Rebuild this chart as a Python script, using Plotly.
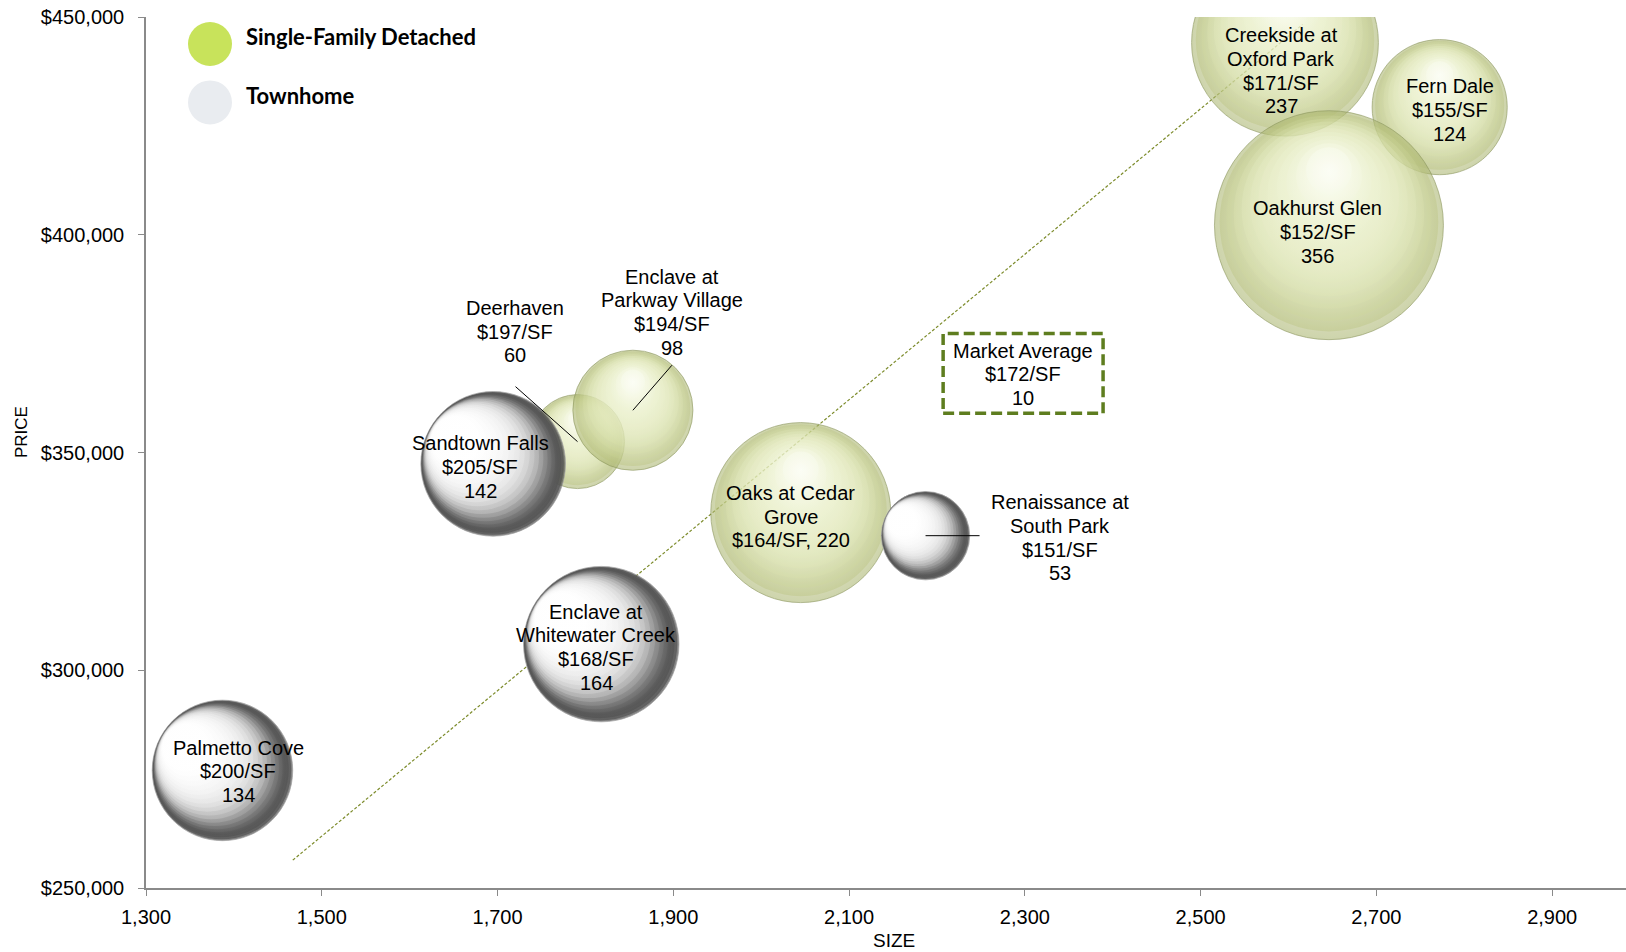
import numpy as np
import plotly.graph_objects as go

# ---------------------------------------------------------------- data
# Townhome communities
th_names = ["Palmetto Cove", "Enclave at\nWhitewater Creek", "Sandtown Falls",
            "Renaissance at\nSouth Park"]
th_size = [1387, 1818, 1695, 2187]            # average home size (SF)
th_price = [277000, 306000, 347400, 330900]   # average price ($)
th_psf = [200, 168, 205, 151]                 # price per SF
th_units = [134, 164, 142, 53]                # bubble value

# Single-family detached communities
sf_names = ["Deerhaven", "Enclave at\nParkway Village", "Oaks at Cedar\nGrove",
            "Creekside at\nOxford Park", "Fern Dale", "Oakhurst Glen"]
sf_size = [1791, 1854, 2045, 2596, 2772, 2646]
sf_price = [352500, 359700, 336200, 444100, 429300, 402200]
sf_psf = [197, 194, 164, 171, 155, 152]
sf_units = [60, 98, 220, 237, 124, 356]

# Trend line through the market
trend_size = [1467, 2616]
trend_price = [256400, 448300]

# Market average call-out
market_psf = 172
market_count = 10

x_ticks = [1300, 1500, 1700, 1900, 2100, 2300, 2500, 2700, 2900]
y_ticks = [250000, 300000, 350000, 400000, 450000]
y_tick_text = [f"${v:,}" for v in y_ticks]

# ---------------------------------------------------------------- layout constants
W, H = 1626, 952
M_L, M_R, M_T, M_B = 146, 0, 17, 64
PLOT_W = W - M_L - M_R
PLOT_H = H - M_T - M_B
X_RANGE = [1300, 2984]
Y_RANGE = [250000, 450000]
PX_X = PLOT_W / (X_RANGE[1] - X_RANGE[0])   # px per SF
PX_Y = PLOT_H / (Y_RANGE[1] - Y_RANGE[0])   # px per $

FONT = "Liberation Sans, Arial, sans-serif"
LEGEND_FONT = "Lato, Calibri, sans-serif"
LABEL_SIZE = 20
LINE_H = 23.7

MAX_D = 229                                   # diameter of the largest bubble (px)
all_units = th_units + sf_units
SIZEREF = 2.0 * max(all_units) / MAX_D ** 2

# label placement: (dx, dy) pixel offset of the label block centre from the bubble
label_offsets = {
    "Palmetto Cove": (16, 1),
    "Enclave at\nWhitewater Creek": (-5, 3),
    "Sandtown Falls": (-13, 3),
    "Renaissance at\nSouth Park": (134, 2),
    "Deerhaven": (-63, -110),
    "Enclave at\nParkway Village": (39, -98),
    "Oaks at Cedar\nGrove": (-10, 4),
    "Creekside at\nOxford Park": (-4, 28),
    "Fern Dale": (10, 3),
    "Oakhurst Glen": (-11, 7),
}
# leader lines: pixel offset of the free end from the bubble centre
leaders = {
    "Deerhaven": (-62, -55),
    "Enclave at\nParkway Village": (39, -45),
    "Renaissance at\nSouth Park": (54, 0),
}
joined_value_line = {"Oaks at Cedar\nGrove"}


# ---------------------------------------------------------------- sphere shading
def hex_rgb(h):
    h = h.lstrip("#")
    return np.array([int(h[i:i + 2], 16) for i in (0, 2, 4)], dtype=float)


def rgb_str(c):
    c = np.clip(np.round(c), 0, 255).astype(int)
    return f"rgb({c[0]},{c[1]},{c[2]})"


def profile_at(profile, u):
    us = [p[0] for p in profile]
    cols = np.array([hex_rgb(p[1]) for p in profile])
    return np.array([np.interp(u, us, cols[:, j]) for j in range(3)])


def shade_layers(scales, shift, profile):
    """Nested discs shifted toward the highlight; each disc's radial gradient
    (rim -> centre) is chosen so the visible crescents follow `profile`,
    a list of (u, colour) where u runs from the highlight side (-1) to the
    shadow side (+1) in bubble radii."""
    rims_u = [s - shift * (1 - s) for s in scales]
    rims, centres = [], []
    for k, s in enumerate(scales):
        t = shift * (1 - s)
        rim = profile_at(profile, rims_u[k])
        if k + 1 < len(scales):
            rho = (rims_u[k + 1] + t) / s
            target = profile_at(profile, rims_u[k + 1])
            centre = np.clip((target - rim * rho) / (1 - rho), 0, 255)
        else:
            centre = profile_at(profile, -t)
        rims.append(rgb_str(rim))
        centres.append(rgb_str(centre))
    return rims, centres


def disc_scales(n, smallest, power):
    return [1.0 - (1.0 - smallest) * (i / (n - 1)) ** power for i in range(n)]


SF_STYLE = dict(
    scales=disc_scales(12, 0.2, 1.2),
    shift=0.6, direction=(0.0, 1.0), opacity=0.8, rim="#8a955c",
    profile=[(-1.0, "#fbfdf0"), (-0.45, "#fdfef6"), (-0.2, "#f3f7df"),
             (0.0, "#ebf1cc"), (0.2, "#e6ecc2"), (0.4, "#e0e7b7"),
             (0.6, "#d7dfa7"), (0.76, "#cad393"), (0.9, "#bac47e"),
             (1.0, "#a8b36a")])
TH_STYLE = dict(
    scales=disc_scales(20, 0.34, 1.35),
    shift=0.92, direction=(-0.85, 0.53), opacity=1.0, rim="#a4a4a4",
    profile=[(-1.0, "#ffffff"), (-0.2, "#ffffff"), (0.0, "#fafafa"),
             (0.2, "#f2f2f2"), (0.36, "#e7e7e7"), (0.48, "#d6d6d6"),
             (0.6, "#bcbcbc"), (0.7, "#999999"), (0.8, "#727272"),
             (0.9, "#555555"), (1.0, "#4e4e4e")])

fig = go.Figure()

# trend line (beneath the bubbles)
fig.add_trace(go.Scatter(
    x=trend_size, y=trend_price, mode="lines",
    line=dict(color="#7d8c2c", width=1.2, dash="3px,2px"),
    hoverinfo="skip", showlegend=False))


def add_spheres(xs, ys, units, style):
    rims, centres = shade_layers(style["scales"], style["shift"], style["profile"])
    hx, hy = style["direction"]
    for x, y, u in zip(xs, ys, units):
        r = np.sqrt(u / (2.0 * SIZEREF))          # bubble radius in px
        lx, ly, lsize = [], [], []
        for s in style["scales"]:
            t = style["shift"] * (1 - s)
            lx.append(x + t * hx * r / PX_X)
            ly.append(y + t * hy * r / PX_Y)
            lsize.append(u * s * s)
        fig.add_trace(go.Scatter(
            x=lx, y=ly, mode="markers", opacity=style["opacity"],
            marker=dict(size=lsize, sizemode="area", sizeref=SIZEREF,
                        color=rims,
                        gradient=dict(type="radial", color=centres),
                        line=dict(width=0)),
            hoverinfo="skip", showlegend=False))
        # outline on top of the shading
        fig.add_trace(go.Scatter(
            x=[x], y=[y], mode="markers", opacity=style["opacity"],
            marker=dict(size=[u], sizemode="area", sizeref=SIZEREF,
                        color="rgba(0,0,0,0)",
                        line=dict(color=style["rim"], width=1)),
            hoverinfo="skip", showlegend=False))


add_spheres(sf_size, sf_price, sf_units, SF_STYLE)   # single-family detached
add_spheres(th_size, th_price, th_units, TH_STYLE)   # townhome


def add_text_block(x, y, lines, dx, dy, size=LABEL_SIZE, lh=LINE_H,
                   xref="x", yref="y"):
    n = len(lines)
    for i, t in enumerate(lines):
        fig.add_annotation(
            x=x, y=y, xref=xref, yref=yref, text=t, showarrow=False,
            xshift=dx, yshift=-(dy + (i - (n - 1) / 2) * lh),
            xanchor="center", yanchor="middle",
            font=dict(family=FONT, size=size, color="#000000"))


for names, xs, ys, psf, units in ((th_names, th_size, th_price, th_psf, th_units),
                                  (sf_names, sf_size, sf_price, sf_psf, sf_units)):
    for name, x, y, p, u in zip(names, xs, ys, psf, units):
        lines = name.split("\n")
        if name in joined_value_line:
            lines += [f"${p}/SF, {u}"]
        else:
            lines += [f"${p}/SF", f"{u}"]
        dx, dy = label_offsets[name]
        add_text_block(x, y, lines, dx, dy)
        if name in leaders:
            lx, ly = leaders[name]
            fig.add_shape(type="line", xref="x", yref="y",
                          xsizemode="pixel", ysizemode="pixel",
                          xanchor=x, yanchor=y,
                          x0=lx, y0=-ly, x1=0, y1=0,
                          line=dict(color="#000000", width=1))

# market average call-out box
box_x = [2207, 2389]
box_y = [359000, 377300]
fig.add_shape(type="rect", xref="x", yref="y",
              x0=box_x[0], x1=box_x[1], y0=box_y[0], y1=box_y[1],
              line=dict(color="#5e7d1f", width=3.5, dash="11px,5px"),
              fillcolor="rgba(0,0,0,0)")
add_text_block(sum(box_x) / 2, sum(box_y) / 2,
               ["Market Average", f"${market_psf}/SF", f"{market_count}"], 0, 1)

# legend (drawn manually with large swatches)
legend_items = [("Single-Family Detached", "#c8e35b"), ("Townhome", "#e9ecf0")]
for k, (label, col) in enumerate(legend_items):
    cy = M_T + 27 + 58.4 * k            # swatch centre (px from top)
    py = (H - M_B - cy) / PLOT_H
    fig.add_shape(type="circle", xref="paper", yref="paper",
                  xsizemode="pixel", ysizemode="pixel",
                  xanchor=(210 - M_L) / PLOT_W, yanchor=py,
                  x0=-22, x1=22, y0=-22, y1=22,
                  fillcolor=col, line=dict(width=0))
    fig.add_annotation(x=(244 - M_L) / PLOT_W, y=py, xref="paper", yref="paper",
                       text=label, showarrow=False, xanchor="left", yanchor="middle",
                       yshift=7,
                       font=dict(family=LEGEND_FONT, size=22, color="#000000",
                                 weight="bold"))

# axis titles
fig.add_annotation(x=(22 - M_L) / PLOT_W, y=(H - M_B - 432) / PLOT_H,
                   xref="paper", yref="paper", text="PRICE", textangle=-90,
                   showarrow=False, xanchor="center", yanchor="middle",
                   font=dict(family=FONT, size=17, color="#000000"))
fig.add_annotation(x=(894 - M_L) / PLOT_W, y=(H - M_B - 940) / PLOT_H,
                   xref="paper", yref="paper", text="SIZE",
                   showarrow=False, xanchor="center", yanchor="middle",
                   font=dict(family=FONT, size=19, color="#000000"))

axis_common = dict(
    showgrid=False, zeroline=False, showline=True, linecolor="#8a8a8a",
    linewidth=1.5, ticks="outside", ticklen=6, tickwidth=1, tickcolor="#8a8a8a",
    tickfont=dict(family=FONT, size=20, color="#000000"), automargin=False,
)
fig.update_layout(
    width=W, height=H,
    margin=dict(l=M_L, r=M_R, t=M_T, b=M_B, pad=0),
    paper_bgcolor="white", plot_bgcolor="white",
    showlegend=False,
    xaxis=dict(range=X_RANGE, tickvals=x_ticks, tickformat=",",
               ticklabelstandoff=4, **axis_common),
    yaxis=dict(range=Y_RANGE, tickvals=y_ticks, ticktext=y_tick_text,
               ticklabelstandoff=10, **axis_common),
)

fig.write_html("out.html")
